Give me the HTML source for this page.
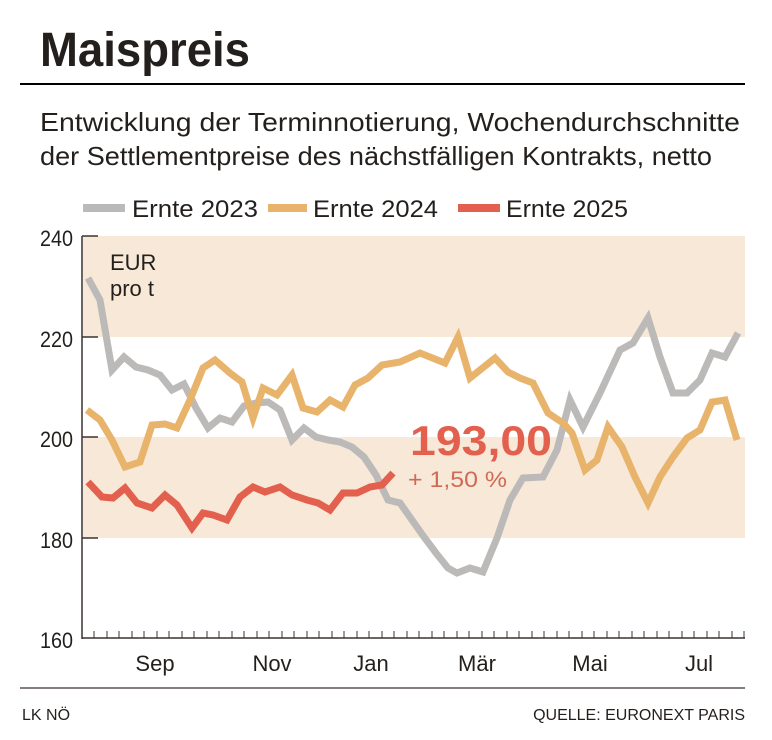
<!DOCTYPE html>
<html><head><meta charset="utf-8"><style>
html,body{margin:0;padding:0;background:#fff}
svg{display:block}
text{font-family:"Liberation Sans Narrow","Liberation Sans",sans-serif;fill:#231f1c}
</style></head><body>
<svg width="772" height="740" viewBox="0 0 772 740">
<text x="40" y="66" font-size="48" font-weight="bold" textLength="210" lengthAdjust="spacingAndGlyphs">Maispreis</text>
<line x1="20" y1="84" x2="745" y2="84" stroke="#000" stroke-width="2"/>
<text x="40" y="131" font-size="26" textLength="700" lengthAdjust="spacingAndGlyphs">Entwicklung der Terminnotierung, Wochendurchschnitte</text>
<text x="40" y="165" font-size="26" textLength="672" lengthAdjust="spacingAndGlyphs">der Settlementpreise des nächstfälligen Kontrakts, netto</text>
<rect x="83" y="204" width="42" height="8" fill="#bcbab8"/>
<text x="132" y="217" font-size="24" textLength="126" lengthAdjust="spacingAndGlyphs">Ernte 2023</text>
<rect x="268" y="204" width="39" height="8" fill="#e8b36a"/>
<text x="313" y="217" font-size="24" textLength="125" lengthAdjust="spacingAndGlyphs">Ernte 2024</text>
<rect x="458" y="204" width="42" height="8" fill="#e2604d"/>
<text x="506" y="217" font-size="24" textLength="122" lengthAdjust="spacingAndGlyphs">Ernte 2025</text>
<rect x="83" y="236" width="662" height="101" fill="#f7e8d8"/>
<rect x="83" y="437" width="662" height="101" fill="#f7e8d8"/>
<line x1="82" y1="236" x2="82" y2="639" stroke="#3a3330" stroke-width="1.5"/>
<line x1="82" y1="638" x2="745" y2="638" stroke="#3a3330" stroke-width="1.5"/>
<g stroke="#3a3330" stroke-width="1.5">
<line x1="82" y1="236" x2="98" y2="236"/><line x1="82" y1="337" x2="98" y2="337"/><line x1="82" y1="437" x2="98" y2="437"/><line x1="82" y1="538" x2="98" y2="538"/>
</g>
<g stroke="#3a3330" stroke-width="1">
<path d="M94 638v-7M107 638v-7M119 638v-7M132 638v-7M144 638v-7M157 638v-7M169 638v-7M182 638v-7M194 638v-7M207 638v-7M219 638v-7M232 638v-7M244 638v-7M257 638v-7M269 638v-7M282 638v-7M294 638v-7M307 638v-7M319 638v-7M332 638v-7M344 638v-7M357 638v-7M369 638v-7M382 638v-7M394 638v-7M407 638v-7M419 638v-7M432 638v-7M444 638v-7M457 638v-7M469 638v-7M482 638v-7M494 638v-7M507 638v-7M519 638v-7M532 638v-7M544 638v-7M557 638v-7M569 638v-7M582 638v-7M594 638v-7M607 638v-7M619 638v-7M632 638v-7M644 638v-7M657 638v-7M669 638v-7M682 638v-7M694 638v-7M707 638v-7M719 638v-7M732 638v-7M744 638v-7"/>
</g>
<g font-size="22">
<text x="40" y="246" textLength="33" lengthAdjust="spacingAndGlyphs">240</text>
<text x="40" y="347" textLength="33" lengthAdjust="spacingAndGlyphs">220</text>
<text x="40" y="447" textLength="33" lengthAdjust="spacingAndGlyphs">200</text>
<text x="40" y="548" textLength="33" lengthAdjust="spacingAndGlyphs">180</text>
<text x="40" y="648" textLength="33" lengthAdjust="spacingAndGlyphs">160</text>
<text x="110" y="270">EUR</text>
<text x="110" y="296">pro t</text>
<text x="155" y="671" text-anchor="middle">Sep</text>
<text x="272" y="671" text-anchor="middle">Nov</text>
<text x="371" y="671" text-anchor="middle">Jan</text>
<text x="477" y="671" text-anchor="middle">Mär</text>
<text x="590" y="671" text-anchor="middle">Mai</text>
<text x="699" y="671" text-anchor="middle">Jul</text>
</g>
<g fill="none" stroke-width="7" stroke-linejoin="miter" stroke-linecap="butt">
<polyline stroke="#bcbab8" points="88,278 100,300 112,370 124,357 136,367 148,370 160,375 172,390 184,384 196,408 208,428 220,418 232,422 244,406 256,403 268,402 280,410 292,440 304,428 316,437 328,440 340,442 352,447 364,457 376,475 388,500 400,503 412,520 424,537 436,553 448,568 457,573 470,568 483,572 497,538 510,500 523,478 543,477 557,450 570,400 583,427 600,393 620,350 633,343 648,318 660,357 673,393 687,393 700,380 712,353 725,357 738,333"/>
<polyline stroke="#e8b36a" points="87,410 100,420 112,440 125,467 140,462 152,425 165,424 177,428 190,400 203,368 215,360 230,373 242,382 253,418 263,388 277,395 292,375 303,408 317,412 330,400 343,407 355,385 368,378 382,365 400,362 420,353 445,363 458,337 470,378 495,358 508,372 520,378 533,383 548,413 563,423 572,433 585,470 597,460 608,427 622,447 635,477 648,503 660,477 673,457 687,438 700,430 712,402 725,400 737,440"/>
<polyline stroke="#e2604d" points="88,482 102,497 113,498 125,488 137,503 152,508 165,495 177,505 192,528 203,513 213,515 227,520 240,497 253,487 265,492 280,487 292,495 307,500 318,503 330,510 343,493 357,493 370,487 382,485 393,473"/>
</g>
<text x="410" y="455" font-size="42" font-weight="bold" style="fill:#e2604d" textLength="142" lengthAdjust="spacingAndGlyphs">193,00</text>
<text x="408" y="487" font-size="22" style="fill:#d06a55" textLength="99" lengthAdjust="spacingAndGlyphs">+ 1,50 %</text>
<line x1="20" y1="688" x2="745" y2="688" stroke="#3a3330" stroke-width="1.2"/>
<text x="22" y="720" font-size="16">LK NÖ</text>
<text x="745" y="720" font-size="16" text-anchor="end">QUELLE: EURONEXT PARIS</text>
</svg>
</body></html>
